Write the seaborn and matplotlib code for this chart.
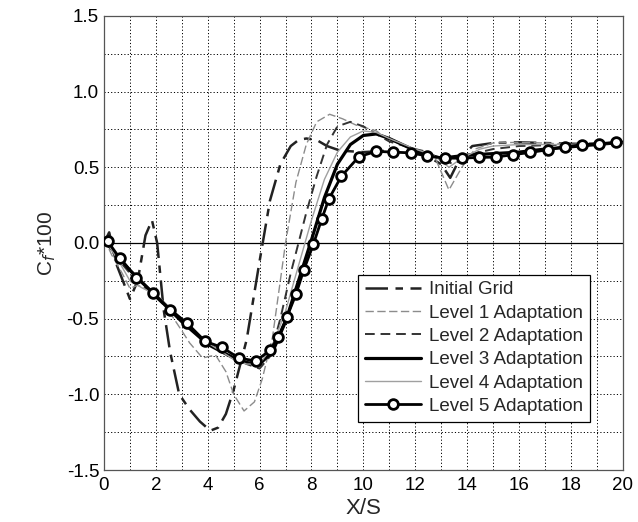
import numpy as np
import pandas as pd
import matplotlib
matplotlib.use("Agg")
import matplotlib.pyplot as plt
from matplotlib.ticker import MultipleLocator
import seaborn as sns

# ---- data ----
x_init = [0.0, 0.2, 0.5, 1.0, 1.3, 1.6, 1.85, 2.05, 2.3, 2.55, 2.9, 3.3, 3.7, 4.1, 4.4, 4.7,
          5.0, 5.5, 6.0, 6.4, 6.8, 7.2, 7.5, 7.8, 8.2, 8.6, 9.1, 10.0, 11.0, 12.0, 12.5, 13.0,
          13.35, 13.7, 14.2, 15.0, 16.0, 17.0, 18.0, 19.0, 20.0]
y_init = [0.0, 0.07, -0.15, -0.37, -0.25, 0.05, 0.15, 0.0, -0.44, -0.72, -1.0, -1.1, -1.18,
          -1.24, -1.22, -1.13, -0.97, -0.64, -0.12, 0.28, 0.52, 0.64, 0.68, 0.69, 0.68, 0.64,
          0.61, 0.60, 0.61, 0.60, 0.57, 0.52, 0.43, 0.55, 0.64, 0.66, 0.665, 0.66, 0.655,
          0.655, 0.66]

x_lev1 = [0.0, 0.3, 0.7, 1.0, 1.3, 1.6, 2.0, 2.5, 3.0, 3.3, 3.8, 4.3, 4.7, 5.0, 5.4, 5.8, 6.1,
          6.5, 7.0, 7.4, 7.8, 8.2, 8.7, 9.2, 9.7, 10.5, 11.0, 12.0, 12.8, 13.3, 13.8, 14.3,
          15.0, 16.0, 17.0, 18.0, 19.0, 20.0]
y_lev1 = [0.03, -0.08, -0.2, -0.3, -0.28, -0.3, -0.35, -0.45, -0.58, -0.66, -0.76, -0.74,
          -0.85, -1.0, -1.11, -1.05, -0.9, -0.62, 0.0, 0.4, 0.65, 0.8, 0.85, 0.82, 0.78, 0.74,
          0.68, 0.62, 0.55, 0.35, 0.5, 0.62, 0.66, 0.665, 0.66, 0.65, 0.655, 0.66]

x_lev2 = [0.0, 0.5, 1.0, 2.0, 3.0, 4.0, 4.5, 5.0, 5.5, 6.0, 6.4, 6.8, 7.2, 7.5, 7.8, 8.2, 8.6,
          9.0, 9.5, 10.0, 10.5, 11.0, 12.0, 12.5, 13.0, 13.5, 14.0, 15.0, 16.0, 17.0, 18.0,
          19.0, 20.0]
y_lev2 = [0.02, -0.1, -0.2, -0.36, -0.52, -0.66, -0.7, -0.76, -0.8, -0.83, -0.75, -0.5, -0.2,
          0.0, 0.2, 0.44, 0.65, 0.77, 0.8, 0.77, 0.72, 0.67, 0.62, 0.6, 0.55, 0.52, 0.58, 0.62,
          0.64, 0.645, 0.65, 0.655, 0.66]

x_lev3 = [0.0, 0.5, 1.0, 2.0, 3.0, 4.0, 5.0, 5.5, 6.0, 6.5, 7.0, 7.5, 8.0, 8.5, 9.0, 9.5,
          10.0, 10.5, 11.0, 11.5, 12.0, 12.5, 13.0, 13.5, 14.0, 15.0, 16.0, 17.0, 18.0, 19.0,
          20.0]
y_lev3 = [0.02, -0.08, -0.18, -0.35, -0.52, -0.67, -0.76, -0.79, -0.8, -0.72, -0.52, -0.25,
          0.02, 0.3, 0.52, 0.65, 0.71, 0.72, 0.69, 0.65, 0.61, 0.58, 0.56, 0.57, 0.58, 0.59,
          0.6, 0.62, 0.635, 0.65, 0.665]

x_lev4 = [0.0, 0.5, 1.0, 1.5, 2.0, 3.0, 4.0, 5.0, 5.5, 6.0, 6.5, 7.0, 7.5, 8.0, 8.5, 9.0,
          9.5, 10.0, 10.5, 11.0, 12.0, 12.7, 13.3, 13.8, 14.5, 15.0, 16.0, 17.0, 18.0, 19.0,
          20.0]
y_lev4 = [0.03, -0.1, -0.25, -0.3, -0.34, -0.5, -0.66, -0.77, -0.8, -0.8, -0.68, -0.45,
          -0.15, 0.15, 0.42, 0.6, 0.7, 0.74, 0.73, 0.69, 0.62, 0.58, 0.5, 0.56, 0.62, 0.64,
          0.65, 0.65, 0.65, 0.655, 0.66]

x_lev5 = [0.15, 0.6, 1.25, 1.9, 2.55, 3.2, 3.9, 4.55, 5.2, 5.85, 6.4, 6.72, 7.05, 7.4, 7.7,
          8.07, 8.4, 8.67, 9.15, 9.83, 10.5, 11.15, 11.82, 12.46, 13.15, 13.8, 14.46, 15.1,
          15.77, 16.44, 17.12, 17.76, 18.45, 19.1, 19.76]
y_lev5 = [0.01, -0.1, -0.23, -0.33, -0.44, -0.53, -0.65, -0.69, -0.76, -0.78, -0.71, -0.62,
          -0.49, -0.34, -0.18, -0.01, 0.16, 0.29, 0.44, 0.57, 0.605, 0.6, 0.595, 0.575, 0.56,
          0.56, 0.565, 0.567, 0.583, 0.598, 0.616, 0.634, 0.649, 0.656, 0.664]

labels = ["Initial Grid", "Level 1 Adaptation", "Level 2 Adaptation",
          "Level 3 Adaptation", "Level 4 Adaptation", "Level 5 Adaptation"]

sns.set_style("white")
plt.rcParams["font.family"] = ["Liberation Sans", "DejaVu Sans"]

fig = plt.figure(figsize=(6.38, 5.22), dpi=100)
ax = fig.add_axes([0.163, 0.0996, 0.813, 0.87])

common = dict(ax=ax, estimator=None, sort=False)
sns.lineplot(x=x_init, y=y_init, color="#222222", lw=1.8,
             linestyle=(0, (9, 3, 3, 3)), label=labels[0], **common)
sns.lineplot(x=x_lev1, y=y_lev1, color="#8c8c8c", lw=1.0,
             linestyle=(0, (6, 2.5)), label=labels[1], **common)
sns.lineplot(x=x_lev2, y=y_lev2, color="#333333", lw=1.4,
             linestyle=(0, (5, 3)), label=labels[2], **common)
sns.lineplot(x=x_lev3, y=y_lev3, color="black", lw=2.3,
             linestyle="-", label=labels[3], **common)
sns.lineplot(x=x_lev4, y=y_lev4, color="#a0a0a0", lw=1.0,
             linestyle="-", label=labels[4], **common)
sns.lineplot(x=x_lev5, y=y_lev5, color="black", lw=2.0, linestyle="-",
             marker="o", markersize=7, markerfacecolor="white",
             markeredgecolor="black", markeredgewidth=2.0,
             label=labels[5], zorder=5, **common)

ax.axhline(0, color="black", lw=0.9, zorder=1)

ax.set_xlim(0, 20)
ax.set_ylim(-1.5, 1.5)
ax.xaxis.set_major_locator(MultipleLocator(2))
ax.xaxis.set_minor_locator(MultipleLocator(1))
ax.yaxis.set_major_locator(MultipleLocator(0.5))
ax.yaxis.set_minor_locator(MultipleLocator(0.25))
ax.yaxis.set_major_formatter(plt.FormatStrFormatter("%.1f"))
ax.grid(True, which="both", color="black", linestyle=(0, (1.2, 2.2)), lw=0.7)
ax.set_axisbelow(True)
ax.tick_params(axis="both", which="major", labelsize=13.5, direction="in",
               length=4, width=0.8, colors="black")
ax.tick_params(axis="x", which="major", pad=5)
ax.tick_params(axis="both", which="minor", length=0)
for sp in ax.spines.values():
    sp.set_color("#555555")
    sp.set_linewidth(0.9)

ax.set_xlabel("X/S", fontsize=16, labelpad=3)
ax.set_ylabel("C$_f$*100", fontsize=15, labelpad=6)

leg = ax.legend(loc="upper left", bbox_to_anchor=(0.49, 0.43), fontsize=13.5,
                frameon=True, fancybox=False, framealpha=1, edgecolor="black",
                handlelength=3.0, handletextpad=0.45, borderpad=0.35,
                labelspacing=0.33, borderaxespad=0)
leg.get_frame().set_linewidth(0.9)

fig.savefig("out.png", dpi=100)
